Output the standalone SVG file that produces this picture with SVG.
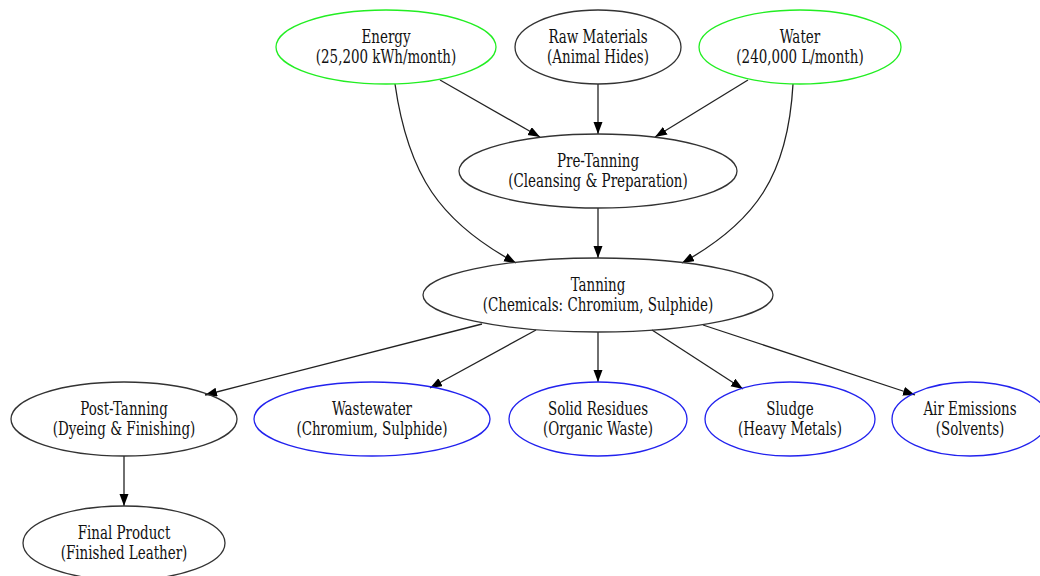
<svg xmlns="http://www.w3.org/2000/svg" width="1040" height="576" viewBox="0 0 1040 576">
<style>
.n ellipse{fill:none;stroke:#333;stroke-width:1.3}
.g ellipse{stroke:#22ee22}
.b ellipse{stroke:#2222ee}
text{font-family:"DejaVu Serif Condensed","DejaVu Serif",serif;font-stretch:condensed;font-size:18px;text-anchor:middle;fill:#111}
.e path{fill:none;stroke:#222;stroke-width:1.3}
</style>
<defs>
<marker id="ah" markerUnits="userSpaceOnUse" markerWidth="12" markerHeight="10" refX="12" refY="4.5" orient="auto"><path d="M0,0 L12,4.5 L0,9 z" fill="#000" stroke="none"/></marker>
</defs>
<rect width="1040" height="576" fill="#fff"/>
<g class="e">
<path d="M440,80 L540,137" marker-end="url(#ah)"/>
<path d="M598,84 L598,134" marker-end="url(#ah)"/>
<path d="M748,80 L655,137" marker-end="url(#ah)"/>
<path d="M395,84 C408,175 440,222 516,263" marker-end="url(#ah)"/>
<path d="M793,84 C788,175 756,222 682,263" marker-end="url(#ah)"/>
<path d="M598,208 L598,258" marker-end="url(#ah)"/>
<path d="M482,324 L205,395" marker-end="url(#ah)"/>
<path d="M536,330 L430,388" marker-end="url(#ah)"/>
<path d="M598,332 L598,382" marker-end="url(#ah)"/>
<path d="M652,330 L743,389" marker-end="url(#ah)"/>
<path d="M703,325 L915,395" marker-end="url(#ah)"/>
<path d="M124,456 L124,506" marker-end="url(#ah)"/>
</g>
<g id="energy" class="n g"><ellipse cx="386" cy="47" rx="110" ry="37"/><text transform="translate(386,43) scale(0.83,1)">Energy</text><text transform="translate(386,63) scale(0.83,1)">(25,200 kWh/month)</text></g>
<g id="raw" class="n"><ellipse cx="598" cy="47" rx="83" ry="37"/><text transform="translate(598,43) scale(0.83,1)">Raw Materials</text><text transform="translate(598,63) scale(0.83,1)">(Animal Hides)</text></g>
<g id="water" class="n g"><ellipse cx="800" cy="47" rx="101" ry="37"/><text transform="translate(800,43) scale(0.83,1)">Water</text><text transform="translate(800,63) scale(0.83,1)">(240,000 L/month)</text></g>
<g id="pretanning" class="n"><ellipse cx="598" cy="171" rx="139" ry="37"/><text transform="translate(598,167) scale(0.83,1)">Pre-Tanning</text><text transform="translate(598,187) scale(0.83,1)">(Cleansing &amp; Preparation)</text></g>
<g id="tanning" class="n"><ellipse cx="598" cy="295" rx="175" ry="37"/><text transform="translate(598,291) scale(0.83,1)">Tanning</text><text transform="translate(598,311) scale(0.83,1)">(Chemicals: Chromium, Sulphide)</text></g>
<g id="posttanning" class="n"><ellipse cx="124" cy="419" rx="113" ry="37"/><text transform="translate(124,415) scale(0.83,1)">Post-Tanning</text><text transform="translate(124,435) scale(0.83,1)">(Dyeing &amp; Finishing)</text></g>
<g id="wastewater" class="n b"><ellipse cx="372" cy="419" rx="118" ry="37"/><text transform="translate(372,415) scale(0.83,1)">Wastewater</text><text transform="translate(372,435) scale(0.83,1)">(Chromium, Sulphide)</text></g>
<g id="solid" class="n b"><ellipse cx="598" cy="419" rx="89" ry="37"/><text transform="translate(598,415) scale(0.83,1)">Solid Residues</text><text transform="translate(598,435) scale(0.83,1)">(Organic Waste)</text></g>
<g id="sludge" class="n b"><ellipse cx="790" cy="419" rx="85" ry="37"/><text transform="translate(790,415) scale(0.83,1)">Sludge</text><text transform="translate(790,435) scale(0.83,1)">(Heavy Metals)</text></g>
<g id="air" class="n b"><ellipse cx="970" cy="419" rx="78" ry="37"/><text transform="translate(970,415) scale(0.83,1)">Air Emissions</text><text transform="translate(970,435) scale(0.83,1)">(Solvents)</text></g>
<g id="final" class="n"><ellipse cx="124" cy="543" rx="101" ry="37"/><text transform="translate(124,539) scale(0.83,1)">Final Product</text><text transform="translate(124,559) scale(0.83,1)">(Finished Leather)</text></g>
</svg>
